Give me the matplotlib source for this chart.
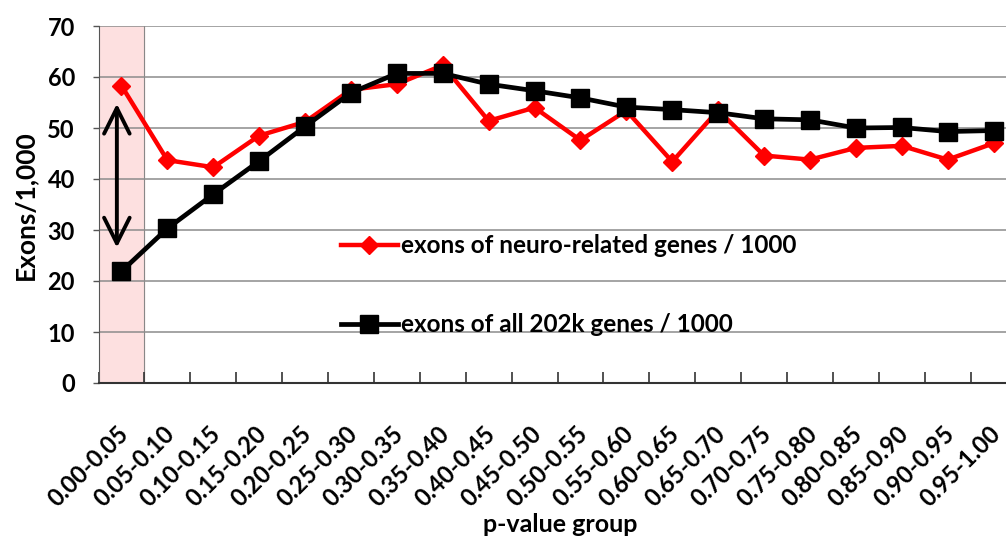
import matplotlib.pyplot as plt
import matplotlib.transforms as mtransforms
import numpy as np
from matplotlib.ticker import FixedLocator, NullFormatter

plt.rcParams['font.family'] = ['Lato', 'DejaVu Sans']
plt.rcParams['font.weight'] = 'bold'

# p-value bins and exon counts per 1,000
groups = ['0.00-0.05', '0.05-0.10', '0.10-0.15', '0.15-0.20', '0.20-0.25',
          '0.25-0.30', '0.30-0.35', '0.35-0.40', '0.40-0.45', '0.45-0.50',
          '0.50-0.55', '0.55-0.60', '0.60-0.65', '0.65-0.70', '0.70-0.75',
          '0.75-0.80', '0.80-0.85', '0.85-0.90', '0.90-0.95', '0.95-1.00']
neuro = [58.3, 43.7, 42.3, 48.5, 51.2, 57.5, 58.6, 62.3, 51.4, 54.0,
         47.6, 53.4, 43.4, 53.5, 44.6, 43.8, 46.1, 46.5, 43.8, 47.0]
all_genes = [21.9, 30.3, 37.0, 43.5, 50.3, 56.9, 60.7, 60.7, 58.6, 57.3,
             55.9, 54.1, 53.6, 53.0, 51.8, 51.6, 50.0, 50.1, 49.3, 49.5]
y_ticks = [0, 10, 20, 30, 40, 50, 60, 70]

fig = plt.figure(figsize=(10.06, 5.41), dpi=100)
ax = fig.add_axes([98.5 / 1006, 1 - 383 / 541, 918 / 1006, 357 / 541])

x = np.arange(len(groups))

# highlighted first bin
ax.axvspan(-0.5, 0.5, color='#fde0e0', zorder=0)
ax.axvline(0.5, color='#888888', lw=0.8, zorder=1)

for v in y_ticks:
    ax.axhline(v, color='#8c8c8c', lw=1.1, zorder=1)

ax.plot(x, neuro, color='#ff0000', lw=3.2, marker='D', ms=9,
        label='exons of neuro-related genes / 1000', zorder=3)
ax.plot(x, all_genes, color='black', lw=3.4, marker='s', ms=13.5,
        label='exons of all 202k genes / 1000', zorder=4)

ax.annotate('', xy=(-0.1, 26.0), xytext=(-0.1, 55.3),
            arrowprops=dict(arrowstyle='<->', lw=2.8, color='black',
                            mutation_scale=46), zorder=5)

ax.set_xlim(-0.5, len(groups) - 0.5)
ax.set_ylim(0, 70)
ax.set_yticks(y_ticks)
ax.tick_params(axis='y', length=4, width=1, color='#555555', labelsize=17, pad=13)

ax.xaxis.set_major_locator(FixedLocator(np.arange(len(groups) + 1) - 0.5))
ax.xaxis.set_major_formatter(NullFormatter())
ax.xaxis.set_minor_locator(FixedLocator(x))
ax.set_xticks(x, groups, minor=True, rotation=45, ha='right', va='top',
              rotation_mode='anchor')
ax.tick_params(axis='x', which='major', direction='in', length=8, width=1.2,
               color='#333333')
ax.tick_params(axis='x', which='minor', length=0, labelsize=17, pad=28)
shift = mtransforms.ScaledTranslation(-5 / 100, 0, fig.dpi_scale_trans)
for lbl in ax.get_xticklabels(minor=True):
    lbl.set_transform(lbl.get_transform() + shift)

for s in ['top', 'right']:
    ax.spines[s].set_visible(False)
ax.spines['left'].set_color('#555555')
ax.spines['bottom'].set_color('#333333')
ax.spines['bottom'].set_linewidth(1.5)

ax.set_ylabel('Exons/1,000', fontsize=19, fontweight='bold', va='center')
ax.yaxis.set_label_coords((25 - 98.5) / 918, (383 - 205) / 357)
ax.set_xlabel('p-value group', fontsize=18, fontweight='bold', va='center')
ax.xaxis.set_label_coords((560 - 98.5) / 918, -(524 - 383) / 357)

ax.legend(loc='upper left', bbox_to_anchor=(230 / 918, (383 - 222) / 357),
          frameon=False, labelspacing=2.3, handlelength=2.35,
          handletextpad=0.15, borderpad=0, prop={'weight': 'bold', 'size': 17.5})

fig.savefig('out.png', dpi=100)
